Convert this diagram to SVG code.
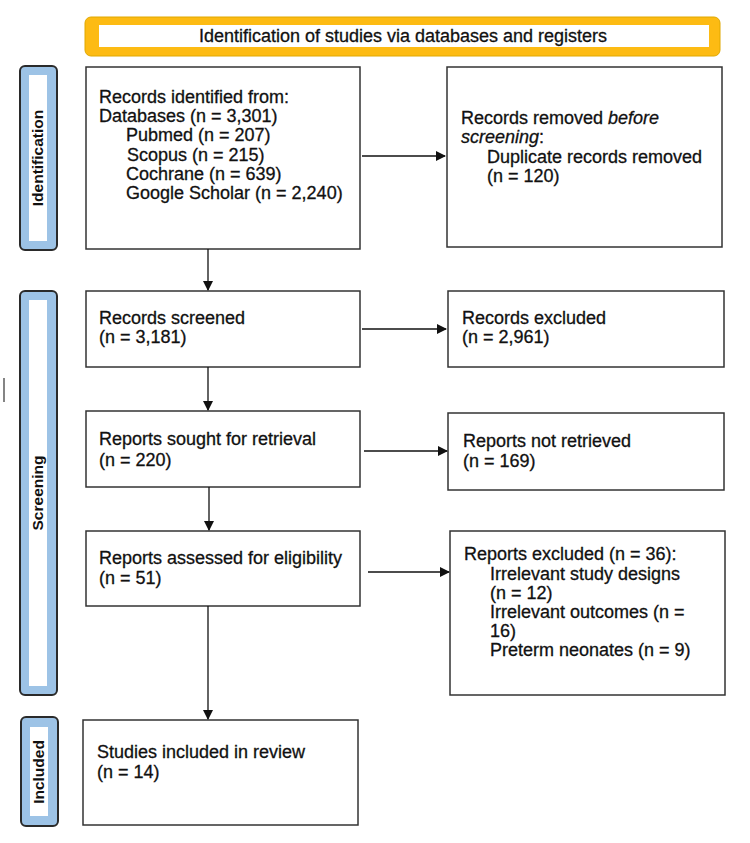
<svg xmlns="http://www.w3.org/2000/svg" width="750" height="843" viewBox="0 0 750 843">
<defs>
<marker id="ah" markerWidth="10" markerHeight="10" refX="9" refY="5" orient="auto" markerUnits="userSpaceOnUse">
<path d="M0,0 L10,5 L0,10 Z" fill="#111"/>
</marker>
<style>
.box{fill:#fff;stroke:#333;stroke-width:1.5}
.t{font-family:"Liberation Sans",Arial,sans-serif;font-size:18px;fill:#111;stroke:#111;stroke-width:0.3}
.side{fill:#9dc3e6;stroke:#2a2a2a;stroke-width:2}
.sidein{fill:#fff}
.st{font-family:"Liberation Sans",Arial,sans-serif;font-size:15.5px;font-weight:bold;fill:#111}
.c{stroke:#111;stroke-width:1.3;fill:none;marker-end:url(#ah)}
</style>
</defs>
<rect width="750" height="843" fill="#fff"/>
<g id="header">
<rect x="85" y="17" width="635" height="39" rx="6" fill="#fdbb13" stroke="#e0a800" stroke-width="1"/>
<rect x="99" y="25" width="610" height="22" fill="#fff"/>
<text class="t" x="403" y="42" text-anchor="middle">Identification of studies via databases and registers</text>
</g>
<g id="lbl-identification">
<rect class="side" x="20" y="66" width="37" height="184" rx="5"/>
<rect class="sidein" x="29" y="75" width="18" height="166"/>
<text class="st" transform="translate(43,158) rotate(-90)" text-anchor="middle">Identification</text>
</g>
<g id="lbl-screening">
<rect class="side" x="20" y="291" width="37" height="404" rx="5"/>
<rect class="sidein" x="29" y="300" width="18" height="386"/>
<text class="st" transform="translate(43,493) rotate(-90)" text-anchor="middle">Screening</text>
</g>
<g id="lbl-included">
<rect class="side" x="21" y="717" width="37" height="109" rx="5"/>
<rect class="sidein" x="30" y="727" width="18" height="89"/>
<text class="st" transform="translate(44,772) rotate(-90)" text-anchor="middle">Included</text>
</g>
<g id="identified">
<rect class="box" x="86" y="67" width="274" height="182"/>
<text class="t" x="99" y="103">Records identified from:</text>
<text class="t" x="99" y="122">Databases (n = 3,301)</text>
<text class="t" x="126" y="141">Pubmed (n = 207)</text>
<text class="t" x="127" y="161">Scopus (n = 215)</text>
<text class="t" x="126" y="180">Cochrane (n = 639)</text>
<text class="t" x="126" y="199">Google Scholar (n = 2,240)</text>
</g>
<g id="removed">
<rect class="box" x="447" y="67" width="275" height="180"/>
<text class="t" x="461" y="124">Records removed <tspan font-style="italic">before</tspan></text>
<text class="t" x="461" y="143"><tspan font-style="italic">screening</tspan>:</text>
<text class="t" x="487" y="163">Duplicate records removed</text>
<text class="t" x="487" y="182">(n = 120)</text>
</g>
<g id="screened">
<rect class="box" x="86" y="291" width="274" height="76"/>
<text class="t" x="99" y="324">Records screened</text>
<text class="t" x="99" y="343">(n = 3,181)</text>
</g>
<g id="excluded">
<rect class="box" x="448" y="291" width="276" height="76"/>
<text class="t" x="462" y="324">Records excluded</text>
<text class="t" x="462" y="343">(n = 2,961)</text>
</g>
<g id="sought">
<rect class="box" x="86" y="411" width="274" height="76"/>
<text class="t" x="99" y="445">Reports sought for retrieval</text>
<text class="t" x="99" y="466">(n = 220)</text>
</g>
<g id="notretrieved">
<rect class="box" x="448" y="413" width="276" height="77"/>
<text class="t" x="463" y="447">Reports not retrieved</text>
<text class="t" x="463" y="467">(n = 169)</text>
</g>
<g id="assessed">
<rect class="box" x="86" y="531" width="274" height="75"/>
<text class="t" x="99" y="564">Reports assessed for eligibility</text>
<text class="t" x="99" y="584">(n = 51)</text>
</g>
<g id="reportsexcluded">
<rect class="box" x="450" y="531" width="275" height="164"/>
<text class="t" x="464" y="560">Reports excluded (n = 36):</text>
<text class="t" x="490" y="580">Irrelevant study designs</text>
<text class="t" x="490" y="599">(n = 12)</text>
<text class="t" x="490" y="618">Irrelevant outcomes (n =</text>
<text class="t" x="490" y="637">16)</text>
<text class="t" x="490" y="656">Preterm neonates (n = 9)</text>
</g>
<g id="included">
<rect class="box" x="83" y="720" width="275" height="105"/>
<text class="t" x="97" y="758">Studies included in review</text>
<text class="t" x="97" y="778">(n = 14)</text>
</g>
<g id="connectors">
<line class="c" x1="362" y1="156" x2="445" y2="156"/>
<line class="c" x1="208" y1="249" x2="208" y2="290"/>
<line class="c" x1="362" y1="329" x2="446" y2="329"/>
<line class="c" x1="208" y1="367" x2="208" y2="410"/>
<line class="c" x1="364" y1="451" x2="447" y2="451"/>
<line class="c" x1="209" y1="487" x2="209" y2="530"/>
<line class="c" x1="368" y1="572" x2="449" y2="572"/>
<line class="c" x1="208" y1="606" x2="208" y2="719"/>
</g>
<line x1="4" y1="378" x2="4" y2="402" stroke="#333" stroke-width="1.2"/>
</svg>
